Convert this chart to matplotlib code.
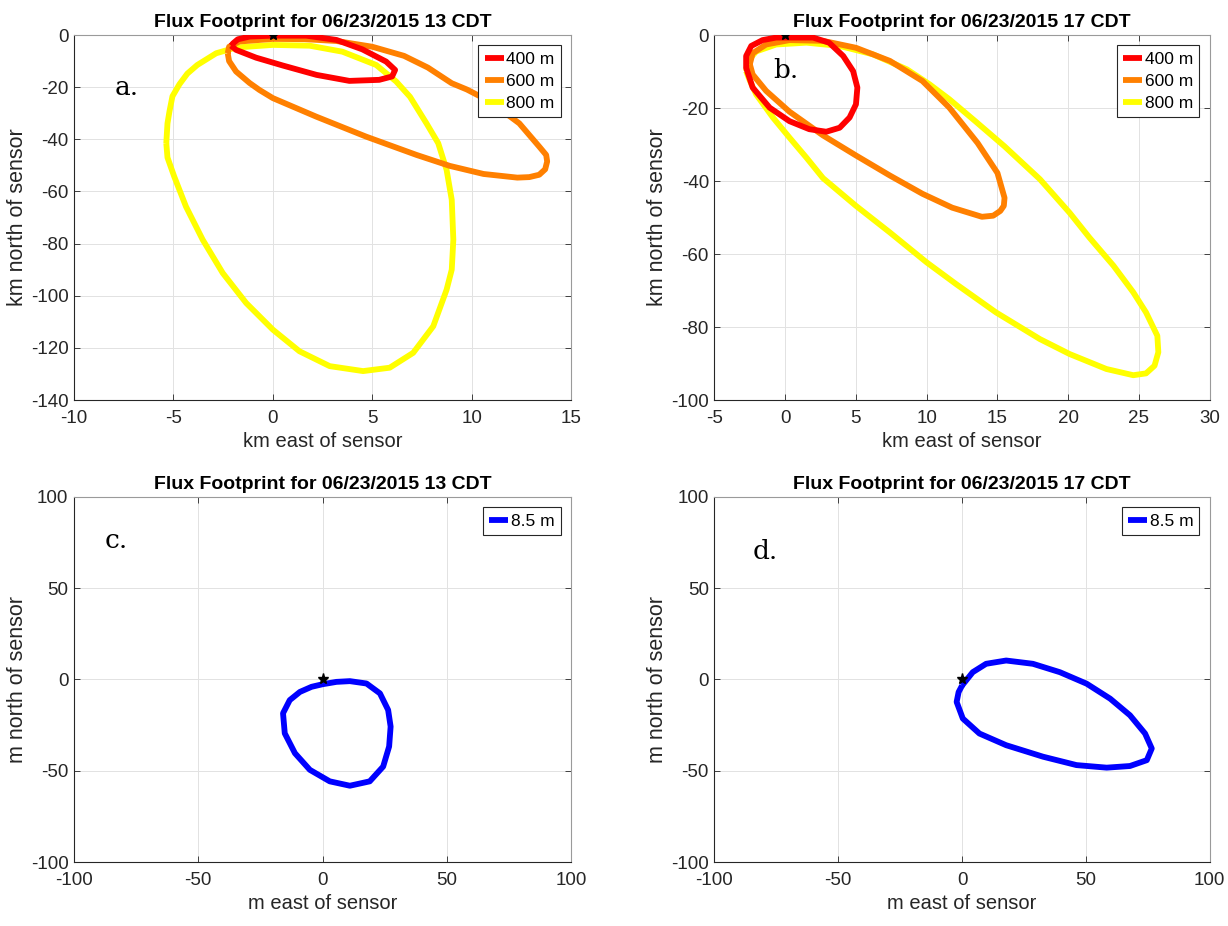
import matplotlib
matplotlib.use("Agg")
import matplotlib.pyplot as plt
import numpy as np

plt.rcParams['font.family'] = ['Liberation Sans', 'DejaVu Sans']
plt.rcParams['axes.unicode_minus'] = False

# footprint contours (x east, y north of sensor)
# 13 CDT, km
a400_x = [-2.1, -2.0, -1.76, -1.17, 0.0, 1.68, 3.2, 4.5, 5.7, 6.15, 6.0, 5.35, 3.85, 2.2, 0.5, -0.84, -1.85]
a400_y = [-4.1, -3.2, -1.65, -0.6, -0.25, -0.25, -1.9, -5.5, -10.2, -13.4, -15.9, -17.2, -17.6, -15.3, -11.7, -8.7, -5.7]
a600_x = [-2.27, -2.2, -1.68, 0.0, 1.6, 3.2, 5.0, 6.6, 7.8, 9.0, 9.76, 10.9, 12.4, 13.4, 13.75, 13.8, 13.7, 13.4,
          12.9, 12.3, 10.6, 8.9, 7.23, 4.7, 2.18, 0.0, -0.67, -1.17, -1.85, -2.2]
a600_y = [-7.0, -4.5, -2.5, -1.5, -1.6, -2.3, -4.5, -8.0, -12.5, -18.5, -20.9, -25.4, -33.9, -42.8, -46.0, -48.5, -51.5,
          -53.6, -54.5, -54.7, -53.3, -50.2, -46.0, -39.0, -31.3, -24.2, -21.1, -18.4, -14.0, -10.0]
a800_x = [-5.36, -5.3, -5.2, -5.05, -4.7, -4.3, -3.8, -2.85, -1.85, 0.0, 1.85, 3.5, 5.2, 6.2, 6.9, 7.73, 8.32,
          8.74, 9.0, 9.08, 9.0, 8.74, 8.07, 7.06, 5.88, 4.54, 2.86, 1.34, 0.0, -1.34, -2.52, -3.53, -4.37, -4.96, -5.3]
a800_y = [-41.5, -33.9, -29.3, -23.5, -18.9, -14.8, -11.5, -7.0, -4.8, -3.8, -4.1, -6.4, -11.5, -17.8, -23.7, -33.9, -41.5,
          -51.7, -63.2, -78.5, -90.0, -97.7, -111.7, -121.9, -127.6, -128.9, -127.0, -121.3, -113.0, -102.8, -91.3, -78.5,
          -65.8, -54.3, -47.0]

# 17 CDT, km
b400_x = [0.0, 1.96, 3.1, 4.1, 4.8, 5.1, 5.0, 4.55, 3.85, 2.9, 1.7, 0.3, -1.1, -2.3, -2.76, -2.76, -2.4, -1.6, -0.64]
b400_y = [-0.7, -0.7, -2.1, -5.75, -9.9, -14.4, -19.0, -22.6, -25.4, -26.5, -25.8, -23.6, -19.9, -14.4, -9.0, -5.75, -3.0,
          -1.4, -0.7]
b600_x = [-2.5, -2.3, -1.35, 0.3, 2.67, 5.0, 7.4, 9.7, 11.6, 13.6, 15.0, 15.5, 15.45, 15.2, 14.7, 13.9, 11.8, 9.7,
          7.4, 5.0, 2.67, 0.3, -1.35, -2.3]
b600_y = [-8.0, -5.0, -2.6, -1.4, -1.6, -3.5, -7.1, -12.6, -19.9, -29.6, -37.8, -44.6, -46.8, -48.2, -49.5, -49.8, -47.3,
          -43.5, -38.5, -33.0, -27.5, -21.0, -15.3, -10.8]
b800_x = [-2.76, -2.64, -2.05, -0.64, 1.5, 3.85, 6.2, 8.6, 10.2, 11.6, 13.4, 15.5, 18.0, 20.1, 21.5, 23.2, 24.6,
          25.5, 26.3, 26.37, 26.1, 25.5, 24.6, 22.7, 20.1, 18.0, 14.9, 12.1, 10.0, 7.4, 5.0, 2.67, 1.5, 0.3, -0.87,
          -2.05, -2.5]
b800_y = [-9.9, -7.1, -4.5, -2.6, -2.1, -3.0, -5.3, -9.4, -13.5, -17.6, -23.5, -30.5, -39.5, -48.7, -55.5, -63.2, -70.5,
          -76.0, -82.4, -86.9, -90.6, -92.7, -93.2, -91.5, -87.4, -83.3, -76.0, -68.3, -62.3, -54.1, -46.8, -39.2, -33.6,
          -28.1, -22.6, -16.3, -12.5]

# 8.5 m tower, m
c_x = [0.0, 5.6, 11.0, 17.7, 23.1, 26.4, 27.4, 26.8, 24.4, 19.0, 11.0, 2.9, -5.1, -11.1, -15.2, -15.9, -13.2,
       -9.1, -4.4]
c_y = [-2.6, -1.3, -0.9, -2.2, -7.6, -16.7, -25.8, -36.7, -47.7, -55.8, -58.2, -55.8, -49.5, -40.4, -29.5, -18.5,
       -11.3, -6.8, -4.0]
d_x = [0.0, 4.3, 9.7, 17.8, 28.6, 39.5, 50.3, 59.8, 67.8, 73.9, 76.6, 74.6, 67.8, 58.4, 46.2, 32.7, 17.8, 7.0,
       0.3, -2.2, -1.4]
d_y = [-3.3, 4.0, 8.6, 10.4, 8.6, 4.0, -2.3, -10.5, -19.6, -29.6, -37.8, -44.2, -47.4, -48.3, -46.9, -42.3, -36.0,
       -29.6, -21.4, -12.3, -6.9]

titles = ["Flux Footprint for 06/23/2015 13 CDT", "Flux Footprint for 06/23/2015 17 CDT"]
tower_labels = ["400 m", "600 m", "800 m"]
colors = ["#ff0000", "#ff8000", "#ffff00"]
dark = "#262626"


def closed(x, y):
    return np.append(x, x[0]), np.append(y, y[0])


def style(ax, xlim, ylim, xt, yt, unit):
    ax.set_xlim(xlim)
    ax.set_ylim(ylim)
    ax.set_xticks(xt)
    ax.set_yticks(yt)
    ax.grid(True, color="#e2e2e2", lw=0.7)
    ax.set_axisbelow(True)
    ax.tick_params(direction="in", top=True, right=True, length=4, width=0.6,
                   colors=dark, labelsize=13.5)
    ax.tick_params(axis="x", pad=7)
    ax.tick_params(axis="y", pad=4)
    for s in ["left", "bottom"]:
        ax.spines[s].set_color(dark)
        ax.spines[s].set_linewidth(0.8)
    for s in ["top", "right"]:
        ax.spines[s].set_color("#9a9a9a")
        ax.spines[s].set_linewidth(0.8)
    ax.set_xlabel(unit + " east of sensor", fontsize=14.5, color=dark, labelpad=4)
    ax.set_ylabel(unit + " north of sensor", fontsize=15.5, color=dark, labelpad=2)
    ax.plot(0, 0, "*", color="k", ms=8, zorder=5)


def legend(ax):
    leg = ax.legend(loc="upper right", fontsize=12.5, handlelength=1.1, handletextpad=0.15,
                    borderpad=0.35, labelspacing=0.4, borderaxespad=0.6, fancybox=False,
                    framealpha=1)
    leg.get_frame().set_edgecolor(dark)
    leg.get_frame().set_linewidth(0.8)


fig = plt.figure(figsize=(12.28, 9.26), dpi=100)
ax_a = fig.add_axes([0.0603, 0.568, 0.4047, 0.3942])
ax_b = fig.add_axes([0.5818, 0.568, 0.4033, 0.3942])
ax_c = fig.add_axes([0.0603, 0.0691, 0.4047, 0.3942])
ax_d = fig.add_axes([0.5818, 0.0691, 0.4033, 0.3942])

line_kw = dict(lw=4.2, solid_joinstyle="round", solid_capstyle="butt")
for xs, ys, col, lab in zip([a400_x, a600_x, a800_x], [a400_y, a600_y, a800_y], colors, tower_labels):
    ax_a.plot(*closed(xs, ys), color=col, label=lab, **line_kw)
for xs, ys, col, lab in zip([b400_x, b600_x, b800_x], [b400_y, b600_y, b800_y], colors, tower_labels):
    ax_b.plot(*closed(xs, ys), color=col, label=lab, **line_kw)
# 400 m on top, 800 m at the bottom
for ax in [ax_a, ax_b]:
    for i, ln in enumerate(ax.lines):
        ln.set_zorder(4 - i * 0.5)

ax_c.plot(*closed(c_x, c_y), color="#0000ff", label="8.5 m", **line_kw)
ax_d.plot(*closed(d_x, d_y), color="#0000ff", label="8.5 m", **line_kw)

style(ax_a, (-10, 15), (-140, 0), np.arange(-10, 16, 5), np.arange(-140, 1, 20), "km")
style(ax_b, (-5, 30), (-100, 0), np.arange(-5, 31, 5), np.arange(-100, 1, 20), "km")
style(ax_c, (-100, 100), (-100, 100), np.arange(-100, 101, 50), np.arange(-100, 101, 50), "m")
style(ax_d, (-100, 100), (-100, 100), np.arange(-100, 101, 50), np.arange(-100, 101, 50), "m")

for ax, t in zip([ax_a, ax_b, ax_c, ax_d], titles + titles):
    ax.set_title(t, fontsize=14, fontweight="bold", color="k", pad=6)
    legend(ax)

ax_a.text(-7.96, -23, "a.", family="DejaVu Serif", fontsize=19)
ax_b.text(-0.87, -11.8, "b.", family="DejaVu Serif", fontsize=19)
ax_c.text(-87.6, 72, "c.", family="DejaVu Serif", fontsize=19)
ax_d.text(-84.5, 66, "d.", family="DejaVu Serif", fontsize=19)

fig.savefig("out.png", dpi=100)
